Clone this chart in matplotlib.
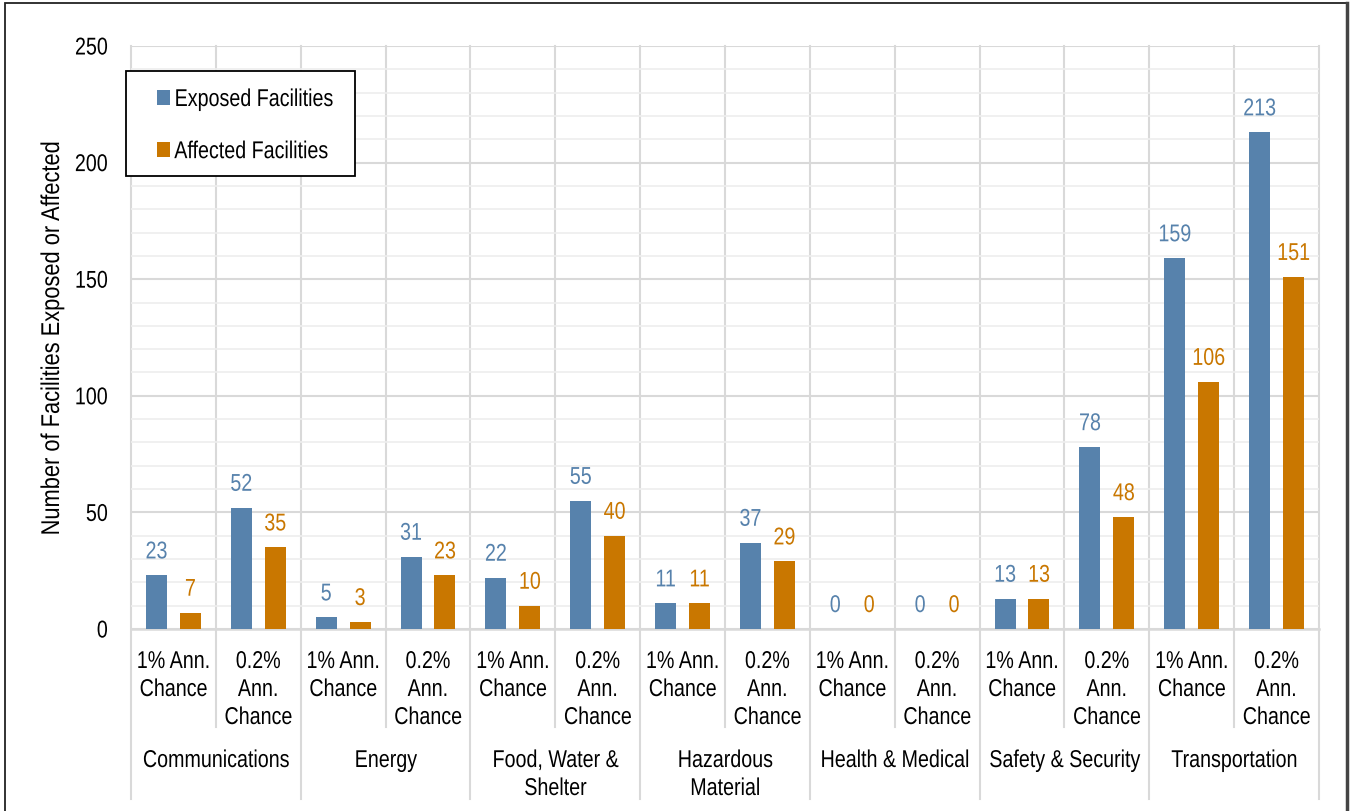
import matplotlib
matplotlib.use('Agg')
import matplotlib.pyplot as plt
import numpy as np
from matplotlib.patches import Patch, Rectangle
from matplotlib.lines import Line2D
from matplotlib.ticker import MultipleLocator
from matplotlib.patheffects import AbstractPathEffect
from matplotlib.transforms import Affine2D

groups = ['Communications', 'Energy', 'Food, Water &\nShelter', 'Hazardous\nMaterial',
          'Health & Medical', 'Safety & Security', 'Transportation']
scenarios = ['1% Ann.\nChance', '0.2%\nAnn.\nChance']
exposed = [23, 52, 5, 31, 22, 55, 11, 37, 0, 0, 13, 78, 159, 213]
affected = [7, 35, 3, 23, 10, 40, 11, 29, 0, 0, 13, 48, 106, 151]
yticks = [0, 50, 100, 150, 200, 250]
series_names = ['Exposed Facilities', 'Affected Facilities']

BLUE = '#5782AC'
ORANGE = '#C97700'
plt.rcParams['font.family'] = ['Liberation Sans', 'DejaVu Sans']
FS = 17.5
SX = 0.81


class Narrow(AbstractPathEffect):
    """Horizontally condense text glyphs (Arial Narrow look)."""

    def __init__(self, sx=SX, anchor='center'):
        super().__init__()
        self.sx = sx
        self.anchor = anchor

    def draw_path(self, renderer, gc, tpath, affine, rgbFace=None):
        if len(tpath.vertices) == 0:
            return
        ext = tpath.get_extents()
        if self.anchor == 'left':
            c = ext.x0
        elif self.anchor == 'right':
            c = ext.x1
        else:
            c = 0.5 * (ext.x0 + ext.x1)
        pre = Affine2D().translate(-c, 0).scale(self.sx, 1).translate(c, 0)
        renderer.draw_path(gc, tpath, pre + affine, rgbFace)


NC = [Narrow(anchor='center')]
NL = [Narrow(anchor='left')]
NR = [Narrow(anchor='right')]

W, H = 1351, 812
fig = plt.figure(figsize=(W / 100, H / 100), dpi=100)


def fx(px):
    return px / W


def fy(py):
    return 1 - py / H


L, R, T, B = 131, 1319, 47, 630
ax = fig.add_axes([fx(L), fy(B), fx(R) - fx(L), fy(T) - fy(B)])

n = len(exposed)
x = np.arange(n)
bw = 0.247
off = 0.2
ax.bar(x - off, exposed, bw, color=BLUE, zorder=3)
ax.bar(x + off, affected, bw, color=ORANGE, zorder=3)

ax.set_xlim(-0.5, n - 0.5)
ax.set_ylim(0, 250)
ax.set_yticks(yticks)
ax.yaxis.set_minor_locator(MultipleLocator(10))
ax.set_xticks([])
ax.grid(axis='y', which='major', color='#d9d9d9', linewidth=1.5, zorder=1)
ax.grid(axis='y', which='minor', color='#eeeeee', linewidth=1.2, zorder=0)
for s in ax.spines.values():
    s.set_visible(False)
ax.tick_params(axis='y', which='both', length=0, pad=16.5, labelsize=FS, labelcolor='black')
for t in ax.get_yticklabels():
    t.set_path_effects(NR)

# value labels
for i in range(n):
    ax.annotate(str(exposed[i]), (x[i] - off, exposed[i]), xytext=(0, 12.2),
                textcoords='offset points', ha='center', va='baseline',
                color=BLUE, fontsize=FS, zorder=4, path_effects=NC)
    ax.annotate(str(affected[i]), (x[i] + off, affected[i]), xytext=(0, 12.2),
                textcoords='offset points', ha='center', va='baseline',
                color=ORANGE, fontsize=FS, zorder=4, path_effects=NC)

# axis frame lines and separators
trans = ax.get_xaxis_transform()


def ay(py):
    return (B - py) / (B - T)


for k in range(n + 1):
    xb = k - 0.5
    bottom = 800 if k % 2 == 0 else 728
    ax.add_line(Line2D([xb, xb], [1, ay(bottom)], transform=trans, color='#d9d9d9',
                       linewidth=1.5, clip_on=False, zorder=1))
ax.add_line(Line2D([-0.5, n - 0.5], [0, 0], transform=trans, color='#d9d9d9',
                   linewidth=1.8, clip_on=False, zorder=2))

# category labels
for i in range(n):
    lab = scenarios[i % 2]
    for j, line in enumerate(lab.split('\n')):
        ax.text(i, ay(669 + 28 * j), line, transform=trans, ha='center', va='baseline',
                fontsize=FS, color='black', path_effects=NC)
for g, name in enumerate(groups):
    for j, line in enumerate(name.split('\n')):
        ax.text(2 * g + 0.5, ay(768 + 28 * j), line, transform=trans, ha='center',
                va='baseline', fontsize=FS, color='black', path_effects=NC)

ax.set_ylabel('Number of Facilities Exposed or Affected', fontsize=18.5, color='black',
              path_effects=[Narrow(sx=0.85, anchor='center')])
ax.yaxis.set_label_coords((52 - L) / (R - L), 0.5)
ax.yaxis.label.set_verticalalignment('center')

# legend frame (drawn separately because the condensed text is narrower than its layout box)
fig.patches.append(Rectangle((fx(126), fy(177)), fx(355) - fx(126), fy(72) - fy(177),
                             transform=fig.transFigure, facecolor='white',
                             edgecolor='black', linewidth=1.3, zorder=9))
handles = [Patch(facecolor=BLUE, edgecolor='none'), Patch(facecolor=ORANGE, edgecolor='none')]
leg = fig.legend(handles, series_names, loc='upper left',
                 bbox_to_anchor=(fx(157), fy(90)), frameon=False, fontsize=FS,
                 handlelength=0.54, handleheight=0.54, handletextpad=0.17,
                 labelspacing=1.24, borderpad=0, borderaxespad=0)
leg.set_zorder(10)
for t in leg.get_texts():
    t.set_path_effects(NL)

# figure border
fig.patches.append(Rectangle((fx(5), -0.05), fx(1347) - fx(5), fy(4) + 0.05,
                             transform=fig.transFigure, fill=False,
                             edgecolor='#222222', linewidth=1.3))
fig.add_artist(Line2D([fx(1347), fx(1347)], [0, fy(4)], transform=fig.transFigure,
                      color='#444444', linewidth=2.5))

fig.savefig('out.png', dpi=100)
